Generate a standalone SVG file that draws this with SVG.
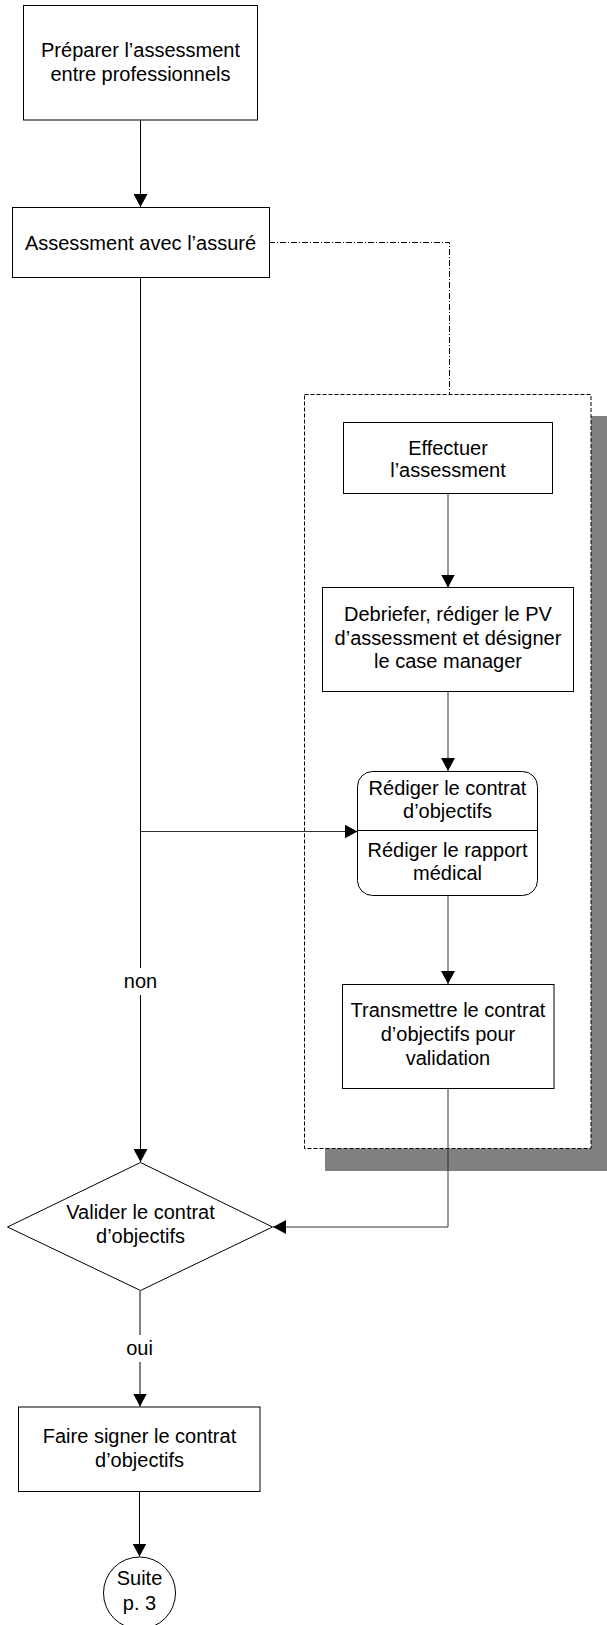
<svg xmlns="http://www.w3.org/2000/svg" width="607" height="1625" viewBox="0 0 607 1625">
<style>
.n{fill:#fff;stroke:#000;stroke-width:1}
.t{font-family:"Liberation Sans",Arial,sans-serif;font-size:20px;fill:#000;text-anchor:middle}
.c{fill:none;stroke:#000;stroke-width:1}
.g{fill:none;stroke:#333;stroke-width:1}
</style>
<defs>
<marker id="ah" markerUnits="userSpaceOnUse" markerWidth="14" markerHeight="14" viewBox="0 0 14 14" refX="13" refY="7" orient="auto">
<path d="M0,0 L13,7 L0,14 Z" fill="#000"/>
</marker>
</defs>
<g id="container">
<rect x="325" y="416" width="290" height="755" fill="#808080"/>
<rect x="304.5" y="394.5" width="286.5" height="754" fill="#fff" stroke="#000" stroke-width="1" stroke-dasharray="4 2"/>
</g>
<g id="connectors">
<line class="c" x1="140.5" y1="120" x2="140.5" y2="207" marker-end="url(#ah)"/>
<polyline class="c" points="269,242.5 449.5,242.5 449.5,394" stroke-dasharray="6 2 1 2"/>
<line class="c" x1="140.5" y1="277" x2="140.5" y2="968"/>
<line class="c" x1="140.5" y1="995" x2="140.5" y2="1162" marker-end="url(#ah)"/>
<line class="g" x1="140.5" y1="831.5" x2="357.5" y2="831.5" marker-end="url(#ah)"/>
<line class="g" x1="448" y1="493" x2="448" y2="587.5" marker-end="url(#ah)"/>
<line class="g" x1="448" y1="691" x2="448" y2="771" marker-end="url(#ah)"/>
<line class="g" x1="448" y1="895" x2="448" y2="984" marker-end="url(#ah)"/>
<polyline class="g" points="448,1088 448,1227 273,1227" marker-end="url(#ah)"/>
<line class="c" x1="140" y1="1291" x2="140" y2="1335"/>
<line class="c" x1="140" y1="1362" x2="140" y2="1406.5" marker-end="url(#ah)"/>
<line class="c" x1="139.5" y1="1491.5" x2="139.5" y2="1556.5" marker-end="url(#ah)"/>
<text class="t" x="140.5" y="988">non</text>
<text class="t" x="139.5" y="1355">oui</text>
</g>
<g id="n1">
<rect class="n" x="23.5" y="5.5" width="234" height="114.5"/>
<text class="t" x="140.5" y="57">Préparer l’assessment</text>
<text class="t" x="140.5" y="81">entre professionnels</text>
</g>
<g id="n2">
<rect class="n" x="12.5" y="207.5" width="257" height="70"/>
<text class="t" x="140.5" y="250">Assessment avec l’assuré</text>
</g>
<g id="n3">
<rect class="n" x="343.5" y="422.5" width="209" height="71"/>
<text class="t" x="448" y="455">Effectuer</text>
<text class="t" x="448" y="477">l’assessment</text>
</g>
<g id="n4">
<rect class="n" x="322.5" y="587.5" width="251" height="104"/>
<text class="t" x="448" y="621">Debriefer, rédiger le PV</text>
<text class="t" x="448" y="645">d’assessment et désigner</text>
<text class="t" x="448" y="668">le case manager</text>
</g>
<g id="n5">
<rect class="n" x="357.5" y="771.5" width="180" height="124" rx="15" ry="15"/>
<line class="c" x1="357.5" y1="830.5" x2="537.5" y2="830.5"/>
<text class="t" x="447.5" y="795">Rédiger le contrat</text>
<text class="t" x="447.5" y="818">d’objectifs</text>
<text class="t" x="447.5" y="857">Rédiger le rapport</text>
<text class="t" x="447.5" y="880">médical</text>
</g>
<g id="n6">
<rect class="n" x="342.5" y="984.5" width="211.5" height="104"/>
<text class="t" x="448" y="1017">Transmettre le contrat</text>
<text class="t" x="448" y="1041">d’objectifs pour</text>
<text class="t" x="448" y="1065">validation</text>
</g>
<g id="n7">
<polygon class="n" points="140.5,1162.5 272.5,1227 140.5,1290.5 7.5,1227"/>
<text class="t" x="140.5" y="1219">Valider le contrat</text>
<text class="t" x="140.5" y="1243">d’objectifs</text>
</g>
<g id="n8">
<rect class="n" x="18.5" y="1407" width="241.5" height="84.5"/>
<text class="t" x="139.5" y="1443">Faire signer le contrat</text>
<text class="t" x="139.5" y="1467">d’objectifs</text>
</g>
<g id="n9">
<circle class="n" cx="139.5" cy="1593" r="36"/>
<text class="t" x="139.5" y="1585">Suite</text>
<text class="t" x="139.5" y="1610">p. 3</text>
</g>
</svg>
